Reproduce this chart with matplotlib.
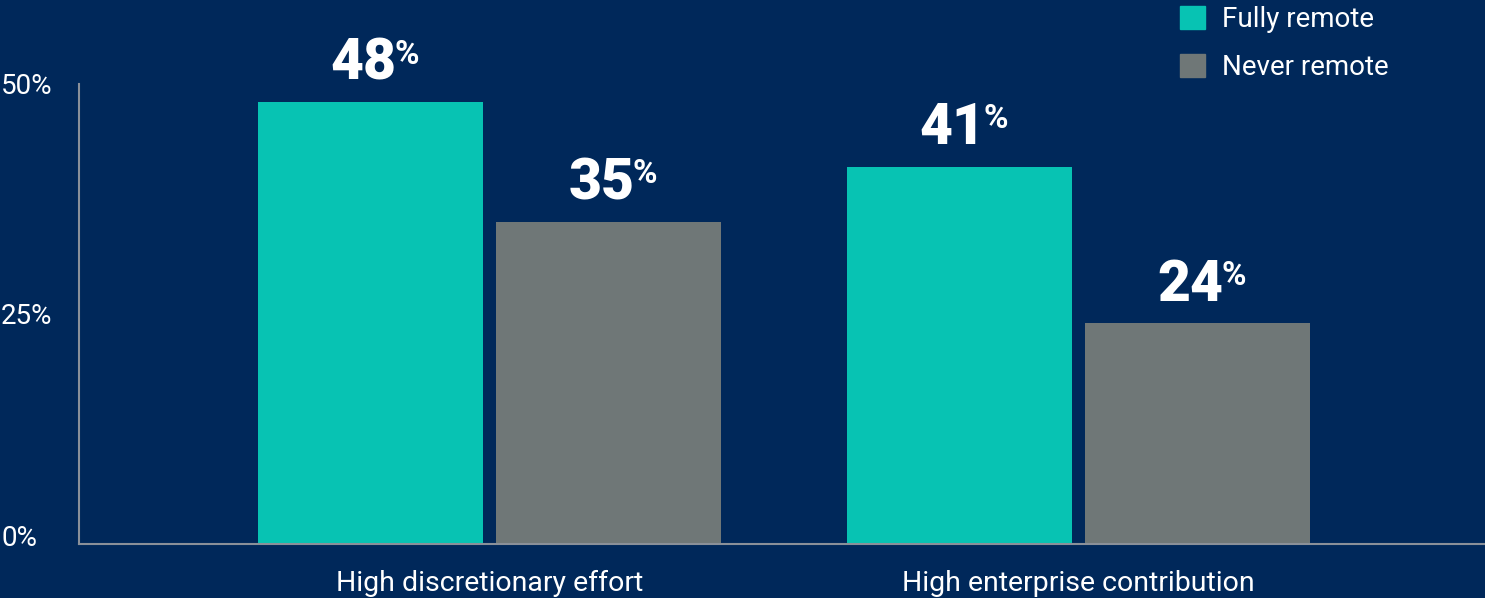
import matplotlib.pyplot as plt
from matplotlib.patches import Patch
import matplotlib.transforms as mtransforms
import numpy as np

categories = ['High discretionary effort', 'High enterprise contribution']
fully_remote = [48, 41]
never_remote = [35, 24]
series_names = ['Fully remote', 'Never remote']
ytick_vals = [0, 25, 50]
ytick_labels = ['0%', '25%', '50%']

bg = '#00285a'
teal = '#07c3b3'
grey = '#6f7777'

plt.rcParams['font.family'] = ['Roboto', 'DejaVu Sans']

W, H = 1485, 598
fig = plt.figure(figsize=(W / 100, H / 100), dpi=100, facecolor=bg)
ax = fig.add_axes([79 / W, 54 / H, (W - 79) / W, 544 / H])
ax.set_facecolor(bg)

x = np.arange(len(categories))
w = 0.382
off = 0.202
b1 = ax.bar(x - off, fully_remote, w, color=teal)
b2 = ax.bar(x + off, never_remote, w, color=grey)

ax.set_xlim(-0.697, 1.690)
ax.set_ylim(0, 59.1)

for s in ['top', 'right']:
    ax.spines[s].set_visible(False)
ax.spines['left'].set_bounds(0, 50)
for s in ['left', 'bottom']:
    ax.spines[s].set_color('#8a9099')
    ax.spines[s].set_linewidth(1.5)

ax.set_xticks(x, categories, color='white', fontsize=20.5)
ax.set_yticks(ytick_vals, ytick_labels, color='white', fontsize=20)
ax.tick_params(axis='x', length=0, pad=19)
ax.tick_params(axis='y', length=0, pad=56)
for lab in ax.get_yticklabels():
    lab.set_ha('left')
# the 0% label sits a little above the baseline in the original
zero_lab = ax.get_yticklabels()[0]
zero_lab.set_transform(zero_lab.get_transform() +
                       mtransforms.ScaledTranslation(0, 9 / 100, fig.dpi_scale_trans))

for bars in (b1, b2):
    for rect in bars:
        v = rect.get_height()
        cx = rect.get_x() + rect.get_width() / 2
        num = ax.annotate(f'{v:g}', xy=(cx, v), xytext=(-5, 16),
                          textcoords='offset points', ha='center', va='baseline',
                          color='white', fontsize=41, fontweight='black')
        ax.annotate('%', xy=(1.0, 0.97), xycoords=num, xytext=(-1.5, 0),
                    textcoords='offset points', ha='left', va='top',
                    color='white', fontsize=24, fontweight='bold')

handles = [Patch(color=teal), Patch(color=grey)]
fig.legend(handles, series_names, loc='upper left',
           bbox_to_anchor=(1155 / W, 1.0 + 19 / H), frameon=False,
           fontsize=20, labelcolor='white', handlelength=0.9, handleheight=0.9,
           handletextpad=0.6, labelspacing=0.75)

fig.savefig('out.png', dpi=100, facecolor=bg)
